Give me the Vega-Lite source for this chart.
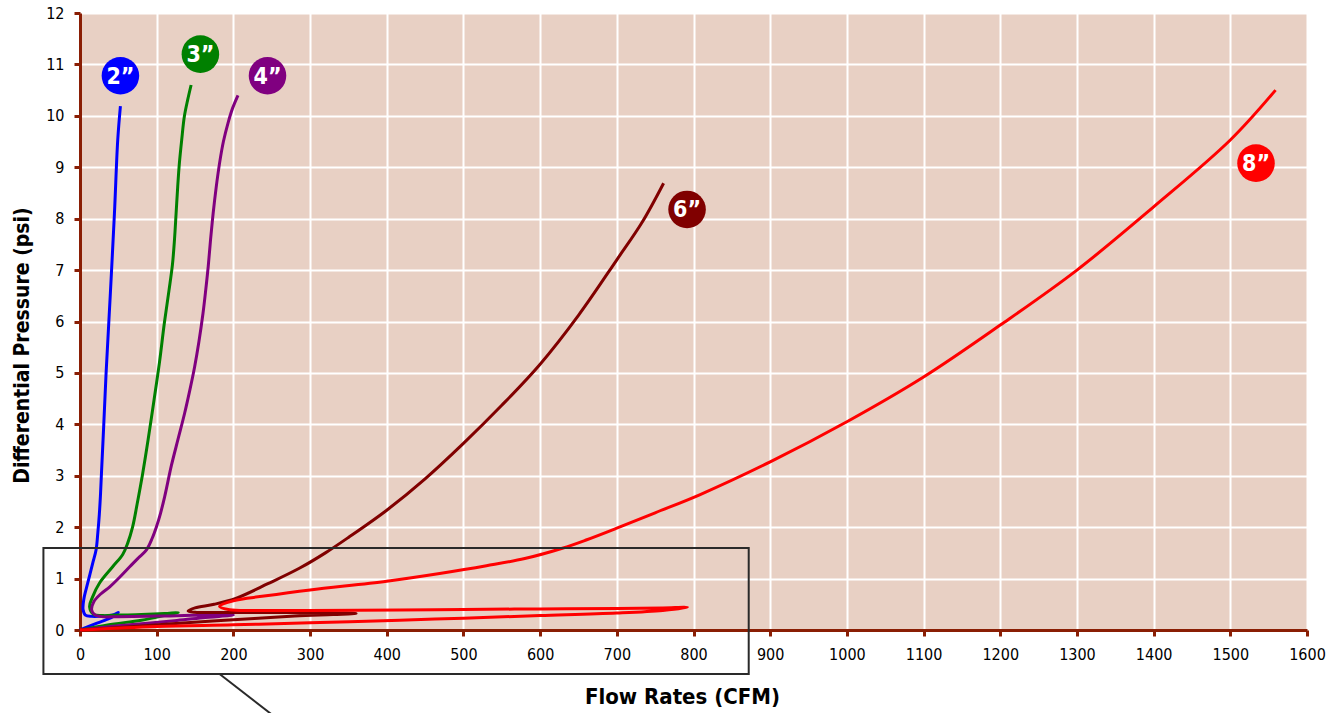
{
  "$schema": "https://vega.github.io/schema/vega-lite/v6.json",
  "width": 1227,
  "height": 617,
  "autosize": {"type": "none"},
  "padding": {"left": 80, "top": 13, "right": 30, "bottom": 83},
  "background": "white",
  "config": {
    "view": {"fill": "#e8d0c4", "stroke": null},
    "font": "Liberation Sans Narrow, DejaVu Sans Condensed, Roboto"
  },
  "datasets": {
    "curves": [
      {"s":"2","i":0,"x":0,"y":0},{"s":"2","i":1,"x":18,"y":0.11},{"s":"2","i":2,"x":36,"y":0.21},{"s":"2","i":3,"x":44,"y":0.27},{"s":"2","i":4,"x":50,"y":0.34},{"s":"2","i":5,"x":44,"y":0.3},{"s":"2","i":6,"x":30,"y":0.27},{"s":"2","i":7,"x":15,"y":0.265},{"s":"2","i":8,"x":7,"y":0.29},{"s":"2","i":9,"x":4,"y":0.4},{"s":"2","i":10,"x":5,"y":0.6},{"s":"2","i":11,"x":10,"y":0.91},{"s":"2","i":12,"x":16.6,"y":1.3},{"s":"2","i":13,"x":21,"y":1.56},{"s":"2","i":14,"x":23.3,"y":1.9},{"s":"2","i":15,"x":25.2,"y":2.25},{"s":"2","i":16,"x":26.6,"y":2.6},{"s":"2","i":17,"x":28,"y":3.05},{"s":"2","i":18,"x":31,"y":4.0},{"s":"2","i":19,"x":34,"y":4.99},{"s":"2","i":20,"x":39.6,"y":6.55},{"s":"2","i":21,"x":44.9,"y":8.1},{"s":"2","i":22,"x":49.2,"y":9.53},{"s":"2","i":23,"x":52.7,"y":10.19},

      {"s":"3","i":0,"x":0,"y":0},{"s":"3","i":1,"x":36,"y":0.1},{"s":"3","i":2,"x":80,"y":0.19},{"s":"3","i":3,"x":110,"y":0.28},{"s":"3","i":4,"x":128,"y":0.34},{"s":"3","i":5,"x":110,"y":0.32},{"s":"3","i":6,"x":80,"y":0.3},{"s":"3","i":7,"x":50,"y":0.29},{"s":"3","i":8,"x":30,"y":0.28},{"s":"3","i":9,"x":18,"y":0.3},{"s":"3","i":10,"x":12.5,"y":0.45},{"s":"3","i":11,"x":16.6,"y":0.65},{"s":"3","i":12,"x":25.3,"y":0.91},{"s":"3","i":13,"x":42.6,"y":1.23},{"s":"3","i":14,"x":55.7,"y":1.47},{"s":"3","i":15,"x":62.2,"y":1.69},{"s":"3","i":16,"x":68.7,"y":2.01},{"s":"3","i":17,"x":74.5,"y":2.45},{"s":"3","i":18,"x":81.8,"y":3.05},{"s":"3","i":19,"x":88.8,"y":3.7},{"s":"3","i":20,"x":96.5,"y":4.47},{"s":"3","i":21,"x":103.5,"y":5.19},{"s":"3","i":22,"x":110,"y":5.97},{"s":"3","i":23,"x":116,"y":6.6},{"s":"3","i":24,"x":120.5,"y":7.1},{"s":"3","i":25,"x":123.2,"y":7.59},{"s":"3","i":26,"x":125.3,"y":8.1},{"s":"3","i":27,"x":127.4,"y":8.62},{"s":"3","i":28,"x":129.6,"y":9.08},{"s":"3","i":29,"x":132.6,"y":9.53},{"s":"3","i":30,"x":136.1,"y":9.99},{"s":"3","i":31,"x":140.4,"y":10.31},{"s":"3","i":32,"x":144.9,"y":10.6},

      {"s":"4","i":0,"x":0,"y":0},{"s":"4","i":1,"x":35,"y":0.06},{"s":"4","i":2,"x":80,"y":0.12},{"s":"4","i":3,"x":123,"y":0.18},{"s":"4","i":4,"x":160,"y":0.24},{"s":"4","i":5,"x":200,"y":0.29},{"s":"4","i":6,"x":160,"y":0.29},{"s":"4","i":7,"x":100,"y":0.27},{"s":"4","i":8,"x":50,"y":0.26},{"s":"4","i":9,"x":28,"y":0.26},{"s":"4","i":10,"x":19,"y":0.3},{"s":"4","i":11,"x":15.2,"y":0.39},{"s":"4","i":12,"x":18,"y":0.55},{"s":"4","i":13,"x":27,"y":0.7},{"s":"4","i":14,"x":38.8,"y":0.84},{"s":"4","i":15,"x":52,"y":1.03},{"s":"4","i":16,"x":64.8,"y":1.23},{"s":"4","i":17,"x":76,"y":1.4},{"s":"4","i":18,"x":86.7,"y":1.56},{"s":"4","i":19,"x":94,"y":1.78},{"s":"4","i":20,"x":99.7,"y":2.01},{"s":"4","i":21,"x":105,"y":2.27},{"s":"4","i":22,"x":110.5,"y":2.6},{"s":"4","i":23,"x":119.2,"y":3.2},{"s":"4","i":24,"x":128,"y":3.72},{"s":"4","i":25,"x":136.5,"y":4.22},{"s":"4","i":26,"x":143,"y":4.65},{"s":"4","i":27,"x":149.5,"y":5.12},{"s":"4","i":28,"x":155,"y":5.6},{"s":"4","i":29,"x":160.4,"y":6.16},{"s":"4","i":30,"x":164,"y":6.62},{"s":"4","i":31,"x":167.2,"y":7.07},{"s":"4","i":32,"x":170.3,"y":7.6},{"s":"4","i":33,"x":173.6,"y":8.1},{"s":"4","i":34,"x":177.5,"y":8.6},{"s":"4","i":35,"x":182,"y":9.08},{"s":"4","i":36,"x":187,"y":9.5},{"s":"4","i":37,"x":193,"y":9.86},{"s":"4","i":38,"x":199,"y":10.15},{"s":"4","i":39,"x":206,"y":10.4},

      {"s":"6","i":0,"x":0,"y":0},{"s":"6","i":1,"x":60,"y":0.06},{"s":"6","i":2,"x":120,"y":0.12},{"s":"6","i":3,"x":200,"y":0.2},{"s":"6","i":4,"x":280,"y":0.27},{"s":"6","i":5,"x":330,"y":0.3},{"s":"6","i":6,"x":360,"y":0.32},{"s":"6","i":7,"x":320,"y":0.335},{"s":"6","i":8,"x":250,"y":0.34},{"s":"6","i":9,"x":180,"y":0.34},{"s":"6","i":10,"x":150,"y":0.345},{"s":"6","i":11,"x":141,"y":0.37},{"s":"6","i":12,"x":150,"y":0.43},{"s":"6","i":13,"x":175,"y":0.5},{"s":"6","i":14,"x":204,"y":0.62},{"s":"6","i":15,"x":245,"y":0.9},{"s":"6","i":16,"x":286,"y":1.2},{"s":"6","i":17,"x":320,"y":1.5},{"s":"6","i":18,"x":350,"y":1.8},{"s":"6","i":19,"x":400,"y":2.33},{"s":"6","i":20,"x":450,"y":2.94},{"s":"6","i":21,"x":500,"y":3.63},{"s":"6","i":22,"x":550,"y":4.37},{"s":"6","i":23,"x":600,"y":5.17},{"s":"6","i":24,"x":650,"y":6.12},{"s":"6","i":25,"x":700,"y":7.2},{"s":"6","i":26,"x":733,"y":7.93},{"s":"6","i":27,"x":761,"y":8.69},

      {"s":"8","i":0,"x":0,"y":0},{"s":"8","i":1,"x":100,"y":0.07},{"s":"8","i":2,"x":200,"y":0.1},{"s":"8","i":3,"x":300,"y":0.14},{"s":"8","i":4,"x":417,"y":0.19},{"s":"8","i":5,"x":500,"y":0.23},{"s":"8","i":6,"x":600,"y":0.28},{"s":"8","i":7,"x":700,"y":0.33},{"s":"8","i":8,"x":760,"y":0.38},{"s":"8","i":9,"x":792,"y":0.44},{"s":"8","i":10,"x":760,"y":0.43},{"s":"8","i":11,"x":700,"y":0.42},{"s":"8","i":12,"x":600,"y":0.41},{"s":"8","i":13,"x":500,"y":0.4},{"s":"8","i":14,"x":417,"y":0.39},{"s":"8","i":15,"x":300,"y":0.38},{"s":"8","i":16,"x":230,"y":0.38},{"s":"8","i":17,"x":195,"y":0.395},{"s":"8","i":18,"x":182,"y":0.46},{"s":"8","i":19,"x":200,"y":0.57},{"s":"8","i":20,"x":240,"y":0.66},{"s":"8","i":21,"x":300,"y":0.78},{"s":"8","i":22,"x":400,"y":0.95},{"s":"8","i":23,"x":469,"y":1.1},{"s":"8","i":24,"x":530,"y":1.25},{"s":"8","i":25,"x":580,"y":1.39},{"s":"8","i":26,"x":629,"y":1.59},{"s":"8","i":27,"x":660,"y":1.75},{"s":"8","i":28,"x":700,"y":1.98},{"s":"8","i":29,"x":750,"y":2.28},{"s":"8","i":30,"x":808,"y":2.63},{"s":"8","i":31,"x":900,"y":3.27},{"s":"8","i":32,"x":1000,"y":4.05},{"s":"8","i":33,"x":1100,"y":4.92},{"s":"8","i":34,"x":1200,"y":5.93},{"s":"8","i":35,"x":1300,"y":7.0},{"s":"8","i":36,"x":1400,"y":8.23},{"s":"8","i":37,"x":1500,"y":9.53},{"s":"8","i":38,"x":1559,"y":10.5}
    ],
    "labels": [
      {"s":"2","label":"2”","x":52.7,"y":10.78},
      {"s":"3","label":"3”","x":157,"y":11.2},
      {"s":"4","label":"4”","x":244.5,"y":10.78},
      {"s":"6","label":"6”","x":791.6,"y":8.18},
      {"s":"8","label":"8”","x":1533.5,"y":9.08}
    ],
    "box": [{"x":-47.7,"x2":872,"y":1.595,"y2":-0.856}],
    "pointer": [{"x":182,"x2":255,"y":-0.856,"y2":-1.7}]
  },
  "layer": [
    {
      "data": {"name": "curves"},
      "mark": {"type": "line", "strokeWidth": 3, "interpolate": "catmull-rom", "clip": false},
      "encoding": {
        "x": {
          "field": "x", "type": "quantitative",
          "scale": {"domain": [0, 1600], "nice": false, "zero": false},
          "axis": {
            "values": [0,100,200,300,400,500,600,700,800,900,1000,1100,1200,1300,1400,1500,1600],
            "format": "d",
            "title": "Flow Rates (CFM)",
            "titleFontSize": 22, "titleFontWeight": "bold", "titleColor": "black",
            "titleX": 602, "titleY": 66, "titleBaseline": "middle", "titleAlign": "center",
            "labelFontSize": 16, "labelColor": "black", "labelPadding": 10, "labelFlush": false,
            "domainColor": "#8a1e04", "domainWidth": 3,
            "tickColor": "#8a1e04", "tickWidth": 3, "tickSize": 6,
            "grid": true, "gridColor": "white", "gridWidth": 2
          }
        },
        "y": {
          "field": "y", "type": "quantitative",
          "scale": {"domain": [0, 12], "nice": false, "zero": false},
          "axis": {
            "values": [0,1,2,3,4,5,6,7,8,9,10,11,12],
            "format": "d",
            "title": "Differential Pressure (psi)",
            "titleFontSize": 21, "titleFontWeight": "bold", "titleColor": "black",
            "titleX": -58, "titleY": 332, "titleAngle": -90, "titleAlign": "center", "titleBaseline": "middle",
            "labelFontSize": 16, "labelColor": "black", "labelPadding": 10, "labelFlush": false,
            "domainColor": "#8a1e04", "domainWidth": 3,
            "tickColor": "#8a1e04", "tickWidth": 3, "tickSize": 6,
            "grid": true, "gridColor": "white", "gridWidth": 2
          }
        },
        "order": {"field": "i", "type": "quantitative"},
        "color": {
          "field": "s", "type": "nominal",
          "scale": {"domain": ["2","3","4","6","8"], "range": ["#0000ff","#008000","#800080","#800000","#ff0000"]},
          "legend": null
        }
      }
    },
    {
      "data": {"name": "box"},
      "mark": {"type": "rect", "filled": false, "fill": null, "stroke": "#2a2a2a", "strokeWidth": 2, "clip": false},
      "encoding": {
        "x": {"field": "x", "type": "quantitative"},
        "x2": {"field": "x2"},
        "y": {"field": "y", "type": "quantitative"},
        "y2": {"field": "y2"}
      }
    },
    {
      "data": {"name": "pointer"},
      "mark": {"type": "rule", "stroke": "#2a2a2a", "strokeWidth": 2, "clip": false},
      "encoding": {
        "x": {"field": "x", "type": "quantitative"},
        "x2": {"field": "x2"},
        "y": {"field": "y", "type": "quantitative"},
        "y2": {"field": "y2"}
      }
    },
    {
      "data": {"name": "labels"},
      "mark": {"type": "circle", "size": 1410, "opacity": 1, "clip": false},
      "encoding": {
        "x": {"field": "x", "type": "quantitative"},
        "y": {"field": "y", "type": "quantitative"},
        "color": {"field": "s", "type": "nominal", "legend": null}
      }
    },
    {
      "data": {"name": "labels"},
      "mark": {"type": "text", "color": "white", "fontSize": 23, "fontWeight": "bold", "align": "center", "baseline": "middle", "dy": 1, "clip": false},
      "encoding": {
        "x": {"field": "x", "type": "quantitative"},
        "y": {"field": "y", "type": "quantitative"},
        "text": {"field": "label"}
      }
    }
  ]
}
